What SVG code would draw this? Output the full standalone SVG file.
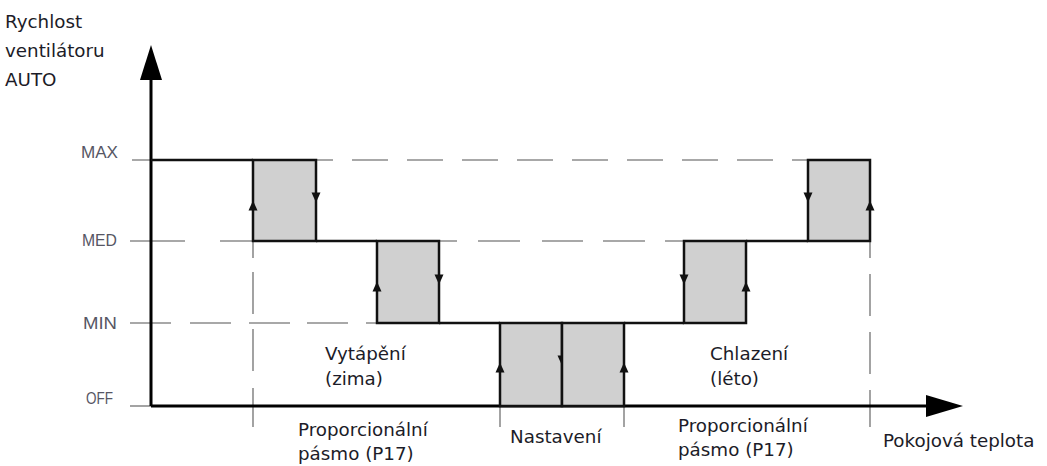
<svg xmlns="http://www.w3.org/2000/svg" width="1047" height="466" viewBox="0 0 1047 466">
<style>
.txt{font-family:"DejaVu Sans","Liberation Sans",sans-serif;font-size:18.3px;fill:#1c1c28}
.lvl{font-family:"Liberation Sans",Arial,sans-serif;font-size:16px;fill:#565664}
.box{fill:#d0d0d0;stroke:#111;stroke-width:2.5}
.step{stroke:#111;stroke-width:2.5;fill:none}
.g{stroke:#8c8c8c;stroke-width:1.6;fill:none}
.axis{stroke:#000;stroke-width:3;fill:none}
</style>
<defs>
<path id="up" d="M0,-5.5 L4.5,4.5 L-4.5,4.5 Z" fill="#111"/>
<path id="dn" d="M0,5.5 L4.5,-4.5 L-4.5,-4.5 Z" fill="#111"/>
</defs>
<rect width="1047" height="466" fill="#fff"/>
<g id="guides">
<line class="g" x1="132" y1="160" x2="808" y2="160" stroke-dasharray="36 19"/>
<path class="g" d="M130,241 H185 M220,241 H253 M439,241 H457 M478,241 H520 M542,241 H583 M603,241 H645 M665,241 H684"/>
<path class="g" d="M130,323 H171 M190,323 H231 M249,323 H290 M307,323 H348 M366,323 H377"/>
<line class="g" x1="130" y1="406" x2="151" y2="406"/>
<path class="g" d="M253,241 V258 M253,272 V314 M253,329 V371 M253,388 V427"/>
<path class="g" d="M870,241 V258 M870,274 V316 M870,332 V374 M870,390 V427"/>
<line class="g" x1="500" y1="406" x2="500" y2="427"/>
<line class="g" x1="624" y1="406" x2="624" y2="427"/>
</g>
<g id="axes">
<line class="axis" x1="151" y1="406" x2="151" y2="75"/>
<polygon points="151,45 140,80 162,80" fill="#000"/>
<line class="axis" x1="151" y1="406" x2="930" y2="406"/>
<polygon points="963,406 926,395 926,417" fill="#000"/>
</g>
<g id="connectors">
<line class="step" x1="151" y1="160" x2="253" y2="160"/>
<line class="step" x1="316" y1="241" x2="377" y2="241"/>
<line class="step" x1="439" y1="323" x2="500" y2="323"/>
<line class="step" x1="624" y1="323" x2="684" y2="323"/>
<line class="step" x1="746" y1="241" x2="808" y2="241"/>
</g>
<g id="box1"><rect class="box" x="253" y="160" width="63" height="81"/><use href="#up" x="253" y="206"/><use href="#dn" x="316" y="197"/></g>
<g id="box2"><rect class="box" x="377" y="241" width="62" height="82"/><use href="#up" x="377" y="287"/><use href="#dn" x="439" y="279"/></g>
<g id="box3"><rect class="box" x="500" y="323" width="62" height="83"/><use href="#up" x="500" y="368"/><use href="#dn" x="562" y="360"/></g>
<g id="box4"><rect class="box" x="562" y="323" width="62" height="83"/><use href="#up" x="624" y="368"/></g>
<g id="box5"><rect class="box" x="684" y="241" width="62" height="82"/><use href="#dn" x="684" y="279"/><use href="#up" x="746" y="287"/></g>
<g id="box6"><rect class="box" x="808" y="160" width="62" height="81"/><use href="#dn" x="808" y="197"/><use href="#up" x="870" y="206"/></g>
<g id="levels">
<text class="lvl" x="81" y="158" textLength="37" lengthAdjust="spacingAndGlyphs">MAX</text>
<text class="lvl" x="82" y="246" textLength="35" lengthAdjust="spacingAndGlyphs">MED</text>
<text class="lvl" x="83" y="329" textLength="34" lengthAdjust="spacingAndGlyphs">MIN</text>
<text class="lvl" x="86" y="404" textLength="27" lengthAdjust="spacingAndGlyphs">OFF</text>
</g>
<g id="labels">
<text class="txt" x="5" y="28">Rychlost</text>
<text class="txt" x="5" y="57">ventilátoru</text>
<text class="txt" x="5" y="86">AUTO</text>
<text class="txt" x="325" y="360">Vytápění</text>
<text class="txt" x="325" y="385">(zima)</text>
<text class="txt" x="710" y="360">Chlazení</text>
<text class="txt" x="710" y="385">(léto)</text>
<text class="txt" x="298" y="436">Proporcionální</text>
<text class="txt" x="298" y="460">pásmo (P17)</text>
<text class="txt" x="510" y="443">Nastavení</text>
<text class="txt" x="678" y="432">Proporcionální</text>
<text class="txt" x="678" y="456">pásmo (P17)</text>
<text class="txt" x="883" y="447">Pokojová teplota</text>
</g>
</svg>
